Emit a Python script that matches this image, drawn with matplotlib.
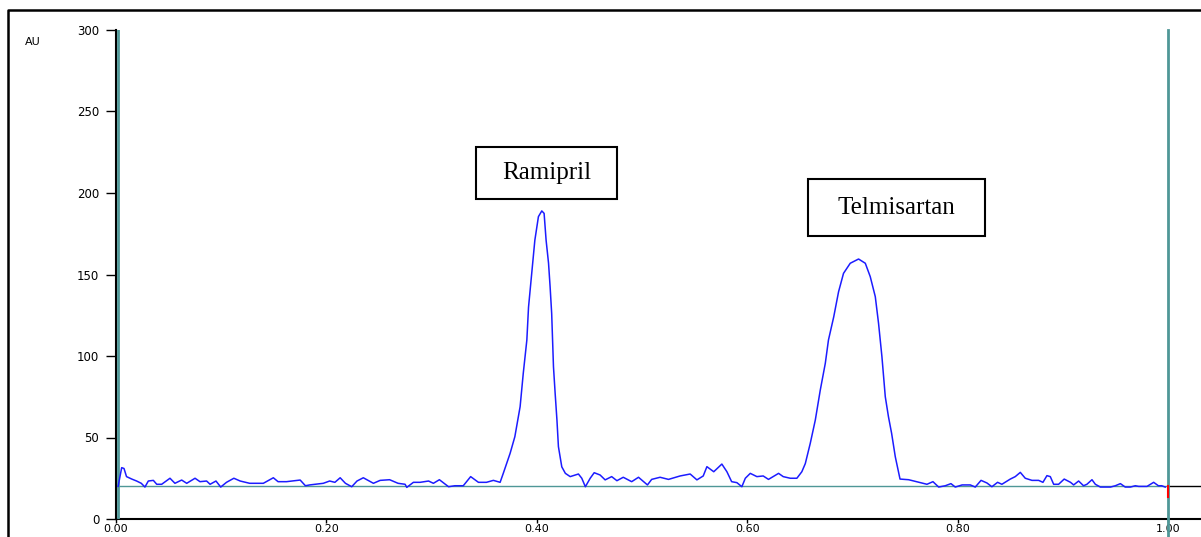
import matplotlib
matplotlib.use("Agg")
import matplotlib.pyplot as plt
from matplotlib.lines import Line2D
from matplotlib.patches import Rectangle

# chromatogram trace (time in min, response in AU)
times = [
    0.002, 0.0054, 0.0076, 0.010, 0.015, 0.0196, 0.024, 0.0275, 0.0307, 0.0355,
    0.0387, 0.0434, 0.0513, 0.056, 0.0624, 0.0672, 0.0751, 0.0798, 0.0861, 0.0894,
    0.095, 0.0995, 0.105, 0.112, 0.118, 0.127, 0.140, 0.1495, 0.154, 0.162,
    0.175, 0.180, 0.184, 0.197, 0.203, 0.208, 0.213, 0.218, 0.224, 0.229,
    0.235, 0.2446, 0.251, 0.260, 0.268, 0.2747, 0.2763, 0.2826, 0.289, 0.297,
    0.3016, 0.3073, 0.316, 0.322, 0.330, 0.337, 0.3444, 0.352, 0.3586, 0.365,
    0.368, 0.3745, 0.379, 0.384, 0.387, 0.3904, 0.392, 0.395, 0.398, 0.4014,
    0.4046, 0.4068, 0.4087, 0.411, 0.4125, 0.414, 0.4157, 0.4173, 0.419, 0.4204,
    0.4236, 0.427, 0.4316, 0.4394, 0.4426, 0.446, 0.4506, 0.4544, 0.460, 0.4648,
    0.471, 0.476, 0.482, 0.490, 0.4965, 0.505, 0.509, 0.517, 0.525, 0.536,
    0.5456, 0.552, 0.558, 0.5615, 0.568, 0.5757, 0.5805, 0.585, 0.590, 0.5947,
    0.598, 0.6027, 0.609, 0.615, 0.620, 0.6296, 0.634, 0.6407, 0.647, 0.6517,
    0.655, 0.6597, 0.6645, 0.6692, 0.674, 0.677, 0.682, 0.6866, 0.6913, 0.6977,
    0.7056, 0.712, 0.7167, 0.7215, 0.7246, 0.7278, 0.731, 0.734, 0.737, 0.7405,
    0.745, 0.7532, 0.7706, 0.7763, 0.7817, 0.788, 0.7934, 0.7975, 0.804, 0.8118,
    0.8165, 0.822, 0.8276, 0.8323, 0.8377, 0.8418, 0.8498, 0.8545, 0.8593, 0.864,
    0.8704, 0.8767, 0.8808, 0.8846, 0.8878, 0.891, 0.8957, 0.901, 0.907, 0.910,
    0.9147, 0.9194, 0.9226, 0.9274, 0.9306, 0.9354, 0.945, 0.9496, 0.9544, 0.959,
    0.9639, 0.9686, 0.9718, 0.9797, 0.986, 0.9905, 0.9937, 0.997,
]
au = [
    20, 31.5, 31, 26, 24.5, 23.3, 21.9, 19.6, 23.3, 23.7,
    21.3, 21.3, 25, 21.9, 23.9, 21.9, 25, 22.9, 23.3, 21.3,
    23.3, 19.6, 22.5, 25, 23.3, 21.9, 21.9, 25.3, 22.9, 22.9,
    23.9, 20.4, 20.9, 21.9, 23.3, 22.5, 25.3, 21.9, 19.8, 23.3,
    25.3, 21.9, 23.7, 24.1, 21.9, 21.3, 19.4, 22.5, 22.5, 23.3,
    21.9, 24.1, 19.8, 20.4, 20.4, 26, 22.5, 22.5, 23.7, 22.5,
    28, 40.3, 50.5, 68.9, 89.4, 109.8, 130, 150.7, 171, 185.5,
    189, 187.5, 171, 157, 142.5, 126, 93.4, 77, 60.7, 44.4,
    32, 28, 26, 27.6, 25, 19.8, 25, 28.4, 27, 24,
    26, 23.5, 25.6, 22.9, 25.6, 20.9, 24.3, 25.6, 24.3, 26.4,
    27.6, 24, 26.4, 32.1, 29, 33.7, 29, 22.9, 22.3, 19.8,
    25, 28, 26, 26.4, 24.3, 28, 26, 25, 25, 29,
    34, 46.4, 60.7, 79, 95.5, 109.8, 124, 139.4, 150.7, 156.9,
    159.5, 156.9, 148.7, 136.4, 120, 99.6, 75, 62.8, 52.6, 38.2,
    24.5, 24.1, 21.3, 22.9, 19.6, 20.4, 21.7, 19.6, 20.9, 20.9,
    19.6, 23.7, 22.1, 19.8, 22.5, 21.3, 24.5, 26, 28.6, 25,
    23.7, 23.7, 22.5, 26.6, 26, 21.3, 21.3, 24.5, 22.5, 20.9,
    23.3, 20.4, 21.3, 24.1, 21.3, 19.6, 19.6, 20.4, 21.7, 19.6,
    19.6, 20.4, 20, 20, 22.5, 20.4, 20.4, 19.6,
]

baseline = 20
run_start, run_end = 0.002, 0.9995
peak_names = ["Ramipril", "Telmisartan"]
# label boxes: (x0, x1, y0, y1) in data units
peak_boxes = [(0.342, 0.476, 196.3, 228.2), (0.658, 0.826, 173.6, 208.6)]
x_ticks = [0.0, 0.2, 0.4, 0.6, 0.8, 1.0]
y_ticks = [0, 50, 100, 150, 200, 250, 300]

teal = "#4f9797"

fig = plt.figure(figsize=(12.01, 5.37), dpi=100)
ax = fig.add_axes([116 / 1201, 1 - 519 / 537, 1 - 116 / 1201, (519 - 30) / 537])
ax.set_xlim(0, 1.031)
ax.set_ylim(0, 300)

# baseline + run markers
ax.plot([run_start, run_end], [baseline, baseline], color=teal, lw=1.0, zorder=2)
ax.plot([run_end, 1.031], [baseline, baseline], color="black", lw=1.0, zorder=2)
ax.plot([run_end, run_end], [baseline, 13.5], color="red", lw=1.5, zorder=4)
ax.plot([run_start, run_start], [0, 300], color=teal, lw=2, zorder=3)
ax.plot([run_end, run_end], [-20, 300], color=teal, lw=2, zorder=3, clip_on=False)

ax.plot(times, au, color="#1c1cff", lw=1.1, zorder=5)

for name, (x0, x1, y0, y1) in zip(peak_names, peak_boxes):
    ax.add_patch(Rectangle((x0, y0), x1 - x0, y1 - y0, fill=False,
                           edgecolor="black", lw=1.5, zorder=6))
    ax.text((x0 + x1) / 2, (y0 + y1) / 2, name, ha="center", va="center",
            family="Liberation Serif", fontsize=18, zorder=7)

ax.spines["top"].set_visible(False)
ax.spines["right"].set_visible(False)
ax.spines["left"].set_linewidth(1.5)
ax.spines["bottom"].set_linewidth(1.5)
ax.set_xticks(x_ticks)
ax.set_xticklabels([f"{v:.2f}" for v in x_ticks])
ax.set_yticks(y_ticks)
ax.tick_params(axis="y", length=7, width=1, pad=5, labelsize=8.5)
ax.tick_params(axis="x", length=3, width=1, pad=0.5, labelsize=8)
fig.text(33 / 1201, 1 - 42 / 537, "AU", ha="center", va="center", fontsize=8)

# outer frame (left and top edges visible)
fig.add_artist(Line2D([8 / 1201, 8 / 1201, 1.0], [0, 1 - 10 / 537, 1 - 10 / 537],
                      transform=fig.transFigure, color="black", lw=1.8))

fig.savefig("out.png", dpi=100)
